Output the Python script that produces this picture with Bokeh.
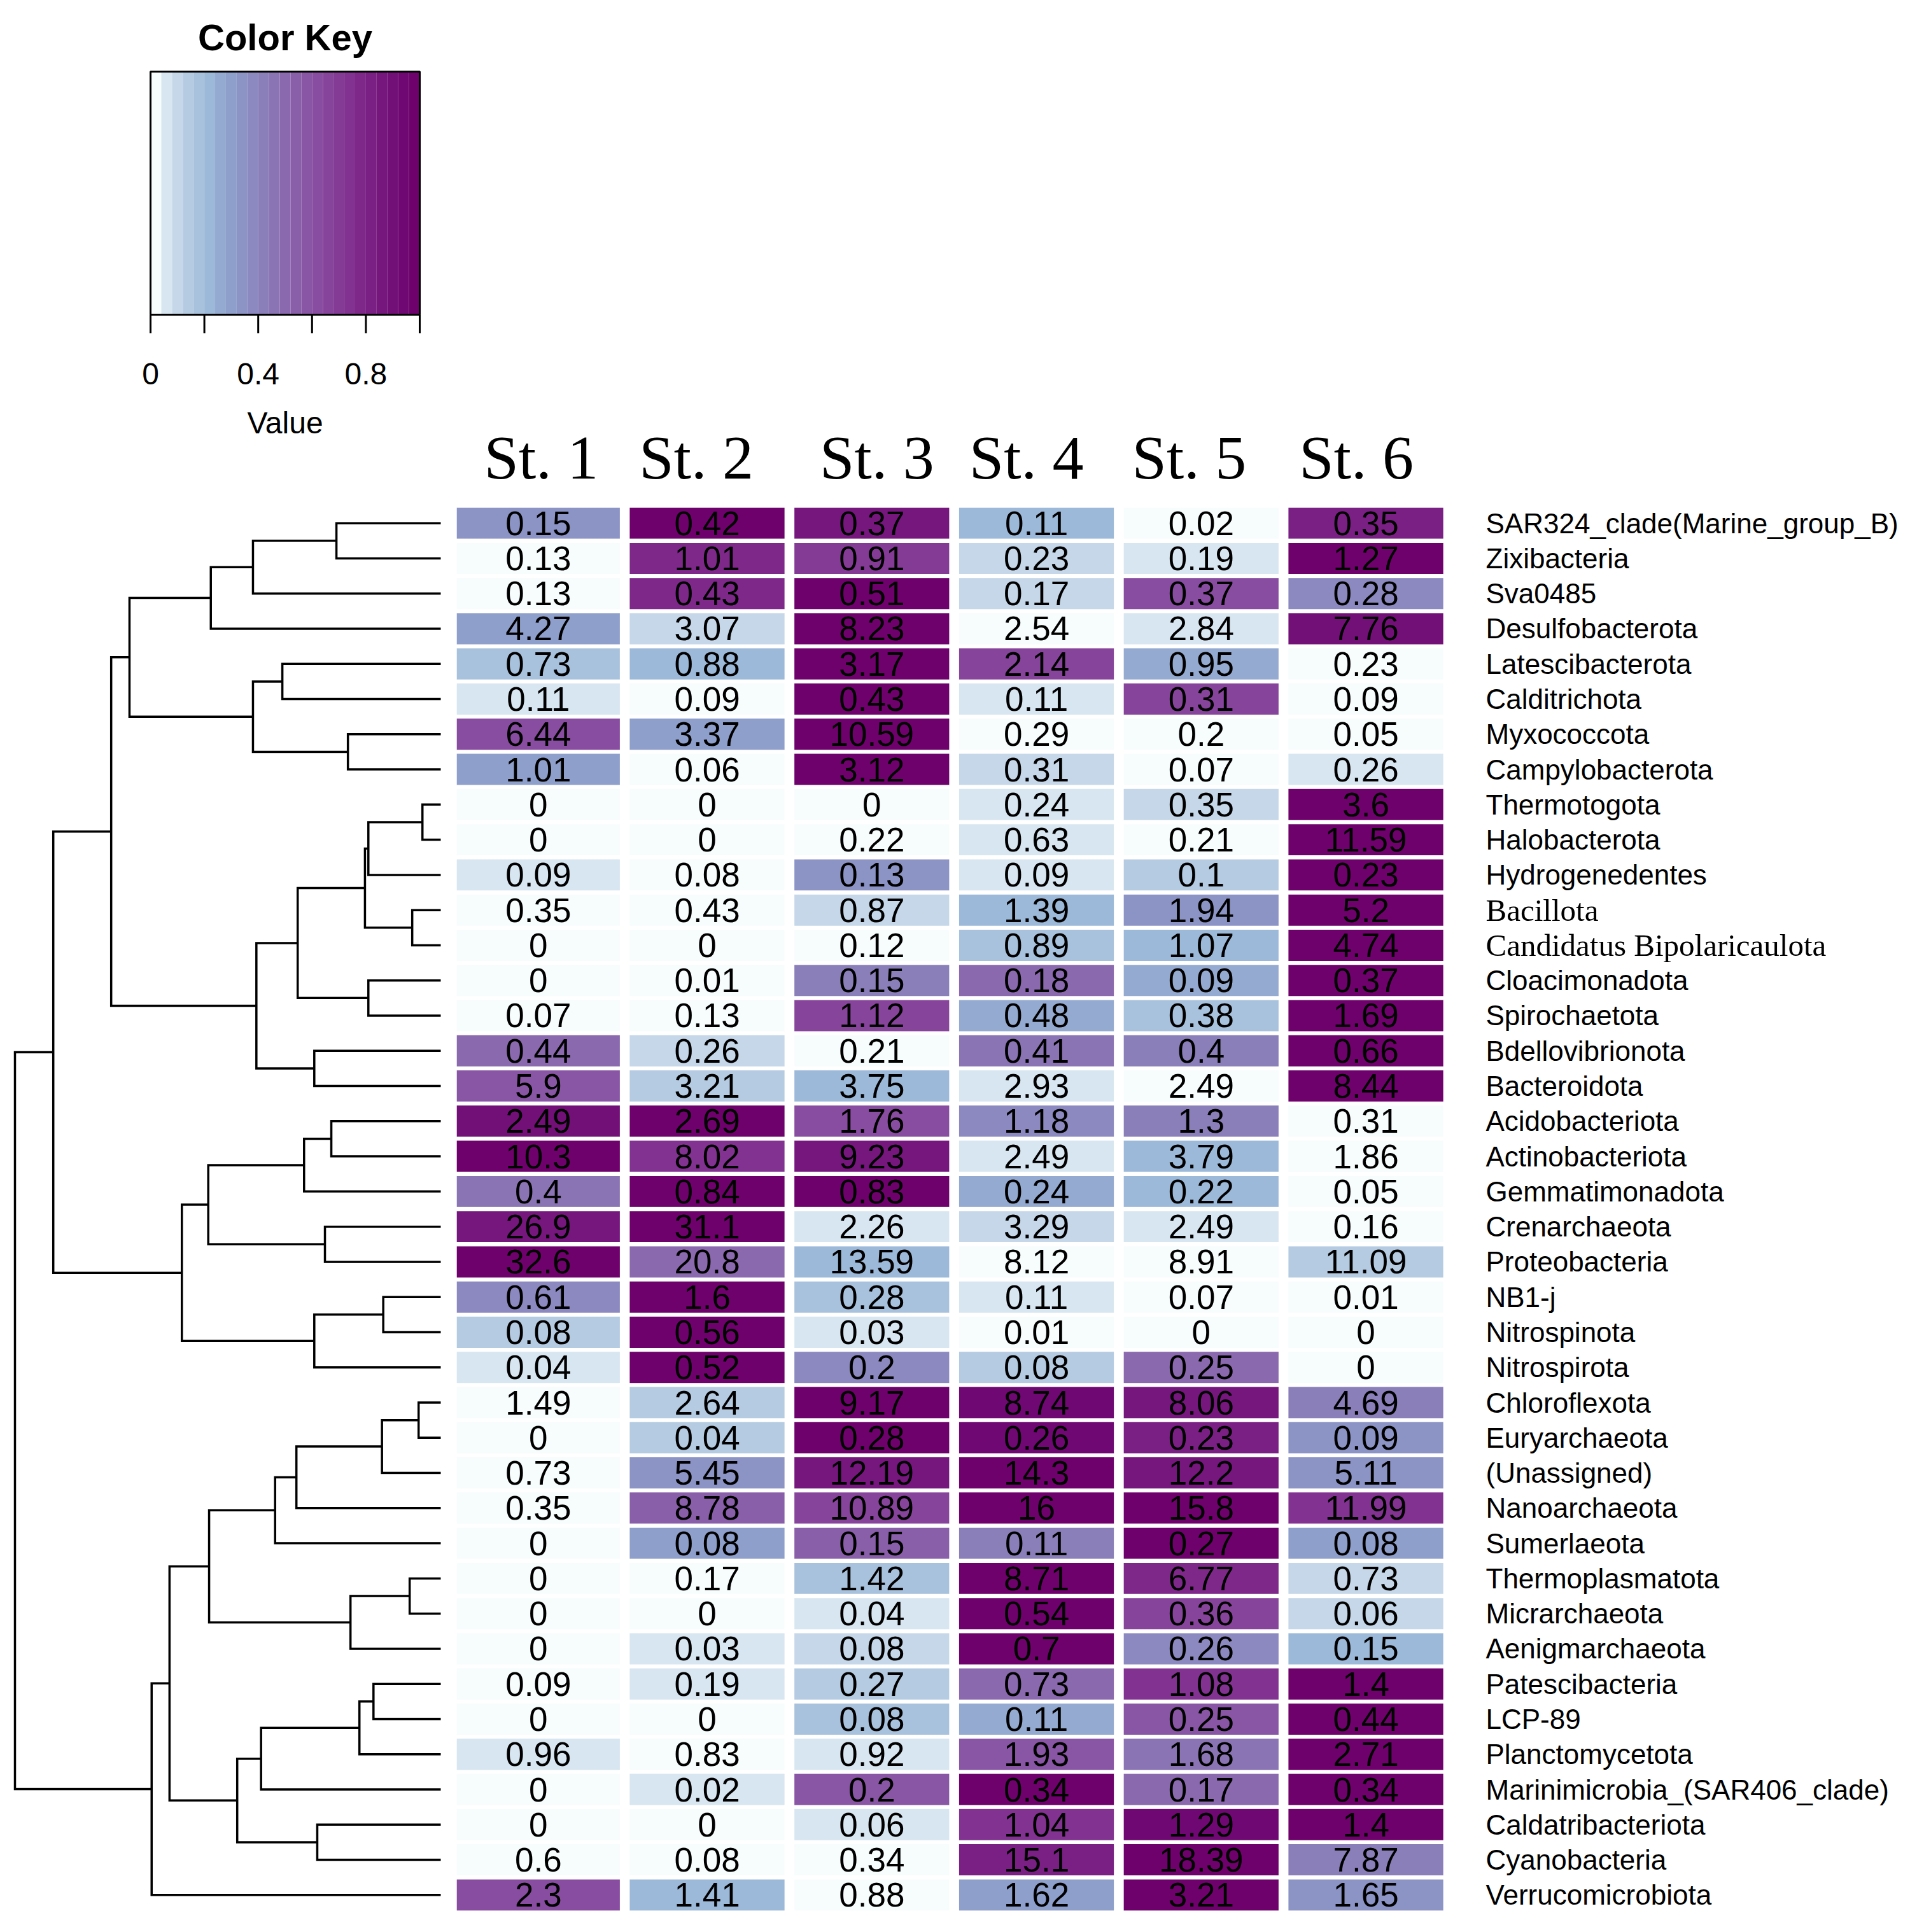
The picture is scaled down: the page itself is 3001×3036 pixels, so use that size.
import numpy as np
from bokeh.plotting import figure
from bokeh.models import Range1d, ColumnDataSource
from bokeh.core.properties import value
from bokeh.embed import file_html
from bokeh.resources import INLINE

# ---------------- data ----------------
stations = ["St. 1", "St. 2", "St. 3", "St. 4", "St. 5", "St. 6"]
taxa = ["SAR324_clade(Marine_group_B)", "Zixibacteria", "Sva0485", "Desulfobacterota",
        "Latescibacterota", "Calditrichota", "Myxococcota", "Campylobacterota",
        "Thermotogota", "Halobacterota", "Hydrogenedentes", "Bacillota",
        "Candidatus Bipolaricaulota", "Cloacimonadota", "Spirochaetota", "Bdellovibrionota",
        "Bacteroidota", "Acidobacteriota", "Actinobacteriota", "Gemmatimonadota",
        "Crenarchaeota", "Proteobacteria", "NB1-j", "Nitrospinota", "Nitrospirota",
        "Chloroflexota", "Euryarchaeota", "(Unassigned)", "Nanoarchaeota", "Sumerlaeota",
        "Thermoplasmatota", "Micrarchaeota", "Aenigmarchaeota", "Patescibacteria", "LCP-89",
        "Planctomycetota", "Marinimicrobia_(SAR406_clade)", "Caldatribacteriota",
        "Cyanobacteria", "Verrucomicrobiota"]
st1 = [0.15, 0.13, 0.13, 4.27, 0.73, 0.11, 6.44, 1.01, 0, 0, 0.09, 0.35, 0, 0, 0.07, 0.44,
       5.9, 2.49, 10.3, 0.4, 26.9, 32.6, 0.61, 0.08, 0.04, 1.49, 0, 0.73, 0.35, 0, 0, 0, 0,
       0.09, 0, 0.96, 0, 0, 0.6, 2.3]
st2 = [0.42, 1.01, 0.43, 3.07, 0.88, 0.09, 3.37, 0.06, 0, 0, 0.08, 0.43, 0, 0.01, 0.13, 0.26,
       3.21, 2.69, 8.02, 0.84, 31.1, 20.8, 1.6, 0.56, 0.52, 2.64, 0.04, 5.45, 8.78, 0.08, 0.17,
       0, 0.03, 0.19, 0, 0.83, 0.02, 0, 0.08, 1.41]
st3 = [0.37, 0.91, 0.51, 8.23, 3.17, 0.43, 10.59, 3.12, 0, 0.22, 0.13, 0.87, 0.12, 0.15, 1.12,
       0.21, 3.75, 1.76, 9.23, 0.83, 2.26, 13.59, 0.28, 0.03, 0.2, 9.17, 0.28, 12.19, 10.89,
       0.15, 1.42, 0.04, 0.08, 0.27, 0.08, 0.92, 0.2, 0.06, 0.34, 0.88]
st4 = [0.11, 0.23, 0.17, 2.54, 2.14, 0.11, 0.29, 0.31, 0.24, 0.63, 0.09, 1.39, 0.89, 0.18,
       0.48, 0.41, 2.93, 1.18, 2.49, 0.24, 3.29, 8.12, 0.11, 0.01, 0.08, 8.74, 0.26, 14.3, 16,
       0.11, 8.71, 0.54, 0.7, 0.73, 0.11, 1.93, 0.34, 1.04, 15.1, 1.62]
st5 = [0.02, 0.19, 0.37, 2.84, 0.95, 0.31, 0.2, 0.07, 0.35, 0.21, 0.1, 1.94, 1.07, 0.09, 0.38,
       0.4, 2.49, 1.3, 3.79, 0.22, 2.49, 8.91, 0.07, 0, 0.25, 8.06, 0.23, 12.2, 15.8, 0.27,
       6.77, 0.36, 0.26, 1.08, 0.25, 1.68, 0.17, 1.29, 18.39, 3.21]
st6 = [0.35, 1.27, 0.28, 7.76, 0.23, 0.09, 0.05, 0.26, 3.6, 11.59, 0.23, 5.2, 4.74, 0.37, 1.69,
       0.66, 8.44, 0.31, 1.86, 0.05, 0.16, 11.09, 0.01, 0, 0, 4.69, 0.09, 5.11, 11.99, 0.08,
       0.73, 0.06, 0.15, 1.4, 0.44, 2.71, 0.34, 1.4, 7.87, 1.65]

# row dendrogram (hclust-style merges: negative = leaf number, positive = earlier merge)
merge_a = [-1, 1, 2, -5, -7, 4, 3, -9, 8, -12, 9, -14, 11, -16, 13, 7, -18, 17, -21, 18,
           -23, 21, 20, 16, -26, 25, 26, 27, -31, 29, 28, -34, 32, 33, -38, 34, 31, 37, 24]
merge_b = [-2, -3, -4, -6, -8, 5, 6, -10, -11, -13, 10, -15, 12, -17, 14, 15, -19, -20, -22,
           19, -24, -25, 22, 23, -27, -28, -29, -30, -32, -33, 30, -35, -36, -37, -39, 35, 36,
           -40, 38]
merge_h = [2.45, 4.41, 5.40, 3.72, 2.18, 4.41, 7.31, 0.43, 1.70, 0.67, 1.78, 1.70, 3.36, 2.97,
           4.33, 7.74, 2.57, 3.21, 2.72, 5.46, 1.35, 2.97, 6.08, 9.10, 0.52, 1.38, 3.39, 3.89,
           0.73, 2.12, 5.44, 1.58, 1.91, 4.22, 2.90, 4.78, 6.37, 6.79, 10.0]

key_ticks = [0, 0.2, 0.4, 0.6, 0.8, 1.0]
key_tick_labels = ["0", "", "0.4", "", "0.8", ""]
serif_taxa = ["Bacillota", "Candidatus Bipolaricaulota"]

# ---------------- style ----------------
palette = ["#f7fcfd", "#d8e6f1", "#c5d7e8", "#b5cbe2", "#a8c2dd", "#9cb9d9", "#94aad0",
           "#8f9fcb", "#8c94c6", "#8b89c0", "#8b7fba", "#8a74b4", "#8a69ae", "#895fa9",
           "#8956a5", "#884da0", "#87449b", "#843b96", "#823290", "#7e298a", "#7a2084",
           "#76177e", "#721078", "#6f0872", "#6e016b"]
header_dx_px = [-2, -17, 8, -16, -19, -15]
col_left_ext = [0.05, 0, 0, 0, 0, 0]
SANS = "Liberation Sans"
SERIF = "Liberation Serif"

W, H = 2985, 3020
OFF = 0


def xr(d0, p0, d1, p1):
    k = (d1 - d0) / (p1 - p0)
    start = d0 - (p0 - OFF) * k
    return Range1d(start=start, end=start + W * k)


def yr(d0, p0, d1, p1):
    k = (d1 - d0) / (p1 - p0)
    top = d0 - (p0 - OFF) * k
    return Range1d(start=top + H * k, end=top)


p = figure(width=W, height=H, x_range=Range1d(OFF, W + OFF), y_range=Range1d(H + OFF, OFF),
           output_backend="svg", toolbar_location=None, x_axis_location=None,
           y_axis_location=None, min_border=0)
p.outline_line_color = None
p.grid.visible = False
p.background_fill_color = "white"
p.border_fill_color = "white"

COLP = (2274.9 - 722.4) / 6.0
p.extra_x_ranges = {"hx": xr(0, 722.4, 6, 2274.9), "dx": xr(0, 692, 10, 23),
                    "kx": xr(0, 236, 1, 659)}
p.extra_y_ranges = {"hy": yr(0, 794, 40, 3005), "ky": yr(0, 494, 1, 112)}

# ---------------- heatmap ----------------
vals = np.array([st1, st2, st3, st4, st5, st6], dtype=float).T
mn = vals.min(axis=1, keepdims=True)
mx = vals.max(axis=1, keepdims=True)
norm = (vals - mn) / np.where(mx - mn == 0, 1, mx - mn)
bins = np.minimum((norm * len(palette)).astype(int), len(palette) - 1)

wm = 0.03
hm = 0.057
L, R, T, B, C, X, Y, TX = [], [], [], [], [], [], [], []
for i in range(len(taxa)):
    for j in range(len(stations)):
        l = j + wm - col_left_ext[j]
        r = j + 1 - wm
        L.append(l); R.append(r); T.append(i + hm); B.append(i + 1 - hm)
        C.append(palette[bins[i, j]])
        X.append((l + r) / 2); Y.append(i + 0.5)
        TX.append("{:g}".format(vals[i, j]))
src = ColumnDataSource(dict(left=L, right=R, top=T, bottom=B, color=C, x=X, y=Y, text=TX))
p.quad(left="left", right="right", top="top", bottom="bottom", fill_color="color",
       line_color=None, source=src, x_range_name="hx", y_range_name="hy")
p.text(x="x", y="y", text="text", source=src, x_range_name="hx", y_range_name="hy",
       text_font=value(SANS), text_font_size="53px", text_align="center",
       text_baseline="middle", text_color="black")

# column headers
hx = [j + 0.5 + header_dx_px[j] / COLP for j in range(len(stations))]
p.text(x=hx, y=[718] * len(stations), text=stations, x_range_name="hx",
       text_font=value(SERIF), text_font_size="98px", text_align="center",
       text_baseline="middle", text_color="black")

# row labels
fonts = [SERIF if t in serif_taxa else SANS for t in taxa]
sizes = ["49px" if t in serif_taxa else "44px" for t in taxa]
lsrc = ColumnDataSource(dict(x=[2334] * len(taxa), y=[i + 0.5 for i in range(len(taxa))],
                             text=taxa, font=fonts, size=sizes))
p.text(x="x", y="y", text="text", source=lsrc, y_range_name="hy", text_font="font",
       text_font_size="size", text_align="left", text_baseline="middle", text_color="black")

# ---------------- dendrogram ----------------
info = []


def node(ref):
    if ref < 0:
        return 0.0, (-ref - 1) + 0.5
    return info[ref - 1]


xs, ys = [], []
for a, b, h in zip(merge_a, merge_b, merge_h):
    ha, ya = node(a)
    hb, yb = node(b)
    xs.append([ha, h, h, hb])
    ys.append([ya, ya, yb, yb])
    info.append((h, (ya + yb) / 2.0))
p.multi_line(xs=xs, ys=ys, line_color="black", line_width=3.5, line_join="miter",
             x_range_name="dx", y_range_name="hy")

# ---------------- color key ----------------
nb = len(palette)
p.quad(left=[k / nb for k in range(nb)], right=[(k + 1) / nb for k in range(nb)],
       bottom=0, top=1, fill_color=palette, line_color=None,
       x_range_name="kx", y_range_name="ky")
p.quad(left=[0], right=[1], bottom=[0], top=[1], fill_color=None, line_color="black",
       line_width=3, x_range_name="kx", y_range_name="ky")
tick_len = 29 / 382.0
p.segment(x0=key_ticks, y0=[0] * len(key_ticks), x1=key_ticks,
          y1=[-tick_len] * len(key_ticks), line_color="black", line_width=3,
          x_range_name="kx", y_range_name="ky")
p.text(x=key_ticks, y=[587] * len(key_ticks), text=key_tick_labels, x_range_name="kx",
       text_font=value(SANS), text_font_size="48px", text_align="center",
       text_baseline="middle", text_color="black")
p.text(x=[0.5], y=[664], text=["Value"], x_range_name="kx", text_font=value(SANS),
       text_font_size="48px", text_align="center", text_baseline="middle",
       text_color="black")
p.text(x=[0.5], y=[58], text=["Color Key"], x_range_name="kx", text_font=value(SANS),
       text_font_size="58px", text_font_style="bold", text_align="center",
       text_baseline="middle", text_color="black")

open("out.html", "w").write(file_html(p, INLINE))
